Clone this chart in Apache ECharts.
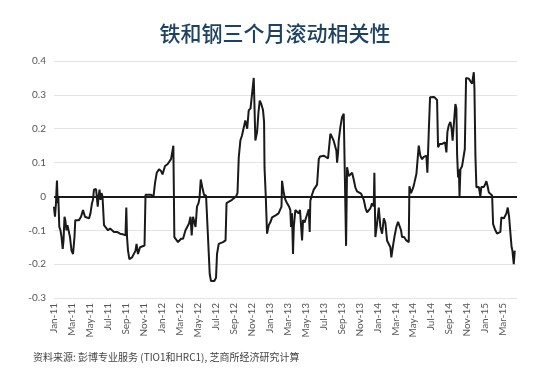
<!DOCTYPE html>
<html><head><meta charset="utf-8">
<script src="https://cdn.jsdelivr.net/npm/echarts@6/dist/echarts.min.js"></script>
<style>html,body{margin:0;padding:0;background:#fff}#c{width:550px;height:382px}</style>
</head><body><div id="c"></div>
<script>
// x: months elapsed since 1 Jan 2011 (0 = Jan-11, 50 = Mar-15)
var monthsSinceJan11 = [0,0.05,0.11,0.22,0.28,0.33,0.41,0.48,0.59,0.72,0.84,0.97,1.06,1.17,1.26,1.39,1.50,1.67,1.78,1.95,2.12,2.19,2.28,2.37,2.56,2.78,3.01,3.23,3.45,3.67,3.90,4.06,4.23,4.34,4.45,4.68,4.79,4.87,4.96,5.07,5.18,5.29,5.40,5.57,5.79,6.01,6.24,6.46,6.68,7.02,7.35,7.68,7.96,8.05,8.13,8.24,8.39,8.52,8.69,8.91,9.08,9.19,9.35,9.58,9.80,10.08,10.19,10.47,10.80,11.08,11.17,11.25,11.44,11.69,11.92,12.08,12.36,12.64,12.81,13.03,13.20,13.29,13.40,13.59,13.81,13.98,14.14,14.37,14.64,14.81,15.03,15.20,15.33,15.48,15.65,15.76,15.92,16.09,16.20,16.34,16.51,16.70,16.93,17.15,17.34,17.48,17.65,17.85,18.04,18.15,18.34,18.49,18.82,19.10,19.21,19.49,19.82,20.04,20.27,20.43,20.57,20.75,20.93,21.12,21.30,21.44,21.51,21.68,21.88,22.10,22.24,22.42,22.61,22.77,22.91,23.05,23.27,23.39,23.44,23.58,23.72,23.91,24.11,24.28,24.50,24.72,25.00,25.20,25.33,25.39,25.58,25.76,25.95,26.17,26.31,26.39,26.50,26.61,26.70,26.87,27.06,27.23,27.39,27.51,27.62,27.73,27.90,28.12,28.36,28.47,28.54,28.73,28.92,29.12,29.29,29.48,29.62,29.84,30.07,30.29,30.51,30.60,30.77,30.96,31.13,31.33,31.44,31.52,31.63,31.70,31.88,32.07,32.26,32.44,32.52,32.63,32.82,33.00,33.19,33.37,33.55,33.74,33.93,34.19,34.49,34.69,34.86,35.08,35.22,35.41,35.60,35.67,35.78,35.97,36.16,36.34,36.53,36.72,36.89,37.08,37.27,37.45,37.56,37.75,37.90,38.12,38.31,38.50,38.64,38.75,38.98,39.23,39.50,39.57,39.75,39.98,40.12,40.35,40.50,40.61,40.79,40.98,41.17,41.35,41.46,41.57,41.73,41.87,42.09,42.32,42.54,42.65,42.76,42.95,43.21,43.40,43.54,43.69,43.80,43.95,44.13,44.27,44.38,44.54,44.69,44.80,44.88,44.99,45.08,45.15,45.25,45.44,45.62,45.74,45.88,46.18,46.36,46.55,46.74,46.81,46.92,47.03,47.30,47.47,47.58,47.85,48.00,48.14,48.30,48.41,48.59,48.78,48.89,49.14,49.33,49.52,49.70,49.81,50.08,50.37,50.52,50.67,50.82,50.95,51.04,51.12,51.19,51.30];
var correlation = [-0.03,-0.045,-0.06,-0.02,0.02,0.047,-0.02,0.0,-0.09,-0.1,-0.12,-0.155,-0.13,-0.06,-0.07,-0.1,-0.085,-0.09,-0.12,-0.16,-0.17,-0.175,-0.12,-0.07,-0.072,-0.07,-0.06,-0.04,-0.06,-0.065,-0.065,-0.05,-0.02,-0.01,0.02,0.022,0.02,-0.03,0.0,0.02,-0.01,0.01,0.0,-0.085,-0.09,-0.1,-0.095,-0.1,-0.105,-0.105,-0.11,-0.112,-0.115,-0.033,-0.12,-0.16,-0.185,-0.19,-0.18,-0.175,-0.16,-0.14,-0.17,-0.15,-0.145,-0.145,0.005,0.005,0.005,0.0,-0.005,0.04,0.07,0.08,0.075,0.065,0.09,0.095,0.1,0.11,0.105,0.15,-0.12,-0.125,-0.135,-0.14,-0.125,-0.125,-0.1,-0.105,-0.08,-0.06,-0.115,-0.06,-0.06,-0.09,-0.03,-0.02,-0.005,0.05,0.027,0.005,0.002,0.0,-0.23,-0.25,-0.245,-0.25,-0.24,-0.17,-0.14,-0.135,-0.135,-0.13,-0.02,-0.015,-0.01,-0.005,0.0,0.01,0.115,0.165,0.18,0.178,0.224,0.22,0.2,0.254,0.26,0.265,0.35,0.165,0.19,0.25,0.283,0.275,0.255,0.22,0.085,0.0,-0.11,-0.085,-0.075,-0.062,-0.058,-0.055,-0.05,-0.048,-0.03,0.046,0.01,-0.01,-0.02,-0.03,-0.04,-0.09,-0.05,-0.17,-0.09,-0.04,-0.045,-0.05,-0.04,-0.035,-0.13,-0.07,-0.077,-0.075,-0.038,-0.105,-0.013,0.005,0.02,0.025,0.035,0.11,0.118,0.115,0.12,0.115,0.112,0.11,0.185,0.175,0.165,0.16,0.135,0.1,0.13,0.165,0.204,0.234,0.244,0.24,-0.146,0.086,0.06,0.06,0.07,0.05,0.027,0.015,0.01,0.008,-0.01,-0.035,-0.047,-0.045,-0.035,-0.02,-0.03,0.07,-0.12,-0.08,-0.033,-0.09,-0.11,-0.065,-0.077,-0.13,-0.135,-0.15,-0.18,-0.145,-0.12,-0.09,-0.075,-0.07,-0.1,-0.12,-0.12,-0.13,-0.135,0.03,0.01,0.025,0.04,0.066,0.07,0.15,0.12,0.11,0.117,0.112,0.12,0.07,0.194,0.293,0.296,0.294,0.294,0.285,0.145,0.155,0.155,0.15,0.16,0.13,0.19,0.21,0.22,0.2,0.165,0.16,0.273,0.26,0.125,0.056,0.08,0.0,0.08,0.09,0.085,0.14,0.35,0.348,0.345,0.333,0.367,0.32,0.12,0.027,0.028,0.0,0.028,0.028,0.035,0.045,0.028,0.012,0.015,0.003,-0.082,-0.1,-0.11,-0.11,-0.105,-0.062,-0.065,-0.05,-0.033,-0.06,-0.11,-0.15,-0.16,-0.155,-0.2,-0.16];
var monthNames = ['Jan','Feb','Mar','Apr','May','Jun','Jul','Aug','Sep','Oct','Nov','Dec'];
var yTicks = [-0.3,-0.2,-0.1,0,0.1,0.2,0.3,0.4];
var titleText = '铁和钢三个月滚动相关性';
var sourceText = '资料来源: 彭博专业服务 (TIO1和HRC1), 芝商所经济研究计算';

var pts = monthsSinceJan11.map(function(m,i){return [m, correlation[i]];});
var chart = echarts.init(document.getElementById('c'), null, {renderer:'canvas'});
chart.setOption({
  animation:false,
  backgroundColor:'#fff',
  title:{text:titleText, left:'center', top:18,
    textStyle:{fontFamily:'Noto Sans CJK SC', fontSize:21, fontWeight:500, color:'#1d4264'}},
  graphic:[{type:'text', left:33, top:352,
    style:{text:sourceText, font:'10px "Noto Sans CJK SC"', fill:'#444'}}],
  grid:{left:54, right:33, top:61, bottom:84, containLabel:false},
  xAxis:{type:'value', min:0, max:51.55, interval:2,
    axisLine:{show:false}, axisTick:{show:false}, splitLine:{show:false},
    axisLabel:{rotate:90, fontSize:10, color:'#555', margin:5, showMaxLabel:false,
      fontFamily:'Lato',
      formatter:function(v){var y=2011+Math.floor(v/12);var mo=Math.round(v)%12;return monthNames[mo]+'-'+String(y).slice(2);}}},
  yAxis:{type:'value', min:yTicks[0], max:yTicks[yTicks.length-1], interval:0.1,
    axisLine:{show:false}, axisTick:{show:false},
    splitLine:{lineStyle:{color:'#e4e4e4', width:1}},
    axisLabel:{fontSize:10, color:'#555', margin:8, fontFamily:'Lato',
      formatter:function(v){var r=Math.round(v*10)/10;return r===0?'0':String(r);}}},
  series:[{type:'line', data:pts, showSymbol:false, symbol:'none',
    lineStyle:{color:'#1a1a1a', width:2}, z:3,
    markLine:{silent:true, symbol:'none', label:{show:false},
      lineStyle:{color:'#1a1a1a', width:2, type:'solid'}, data:[{yAxis:0}]}}]
});
</script></body></html>
